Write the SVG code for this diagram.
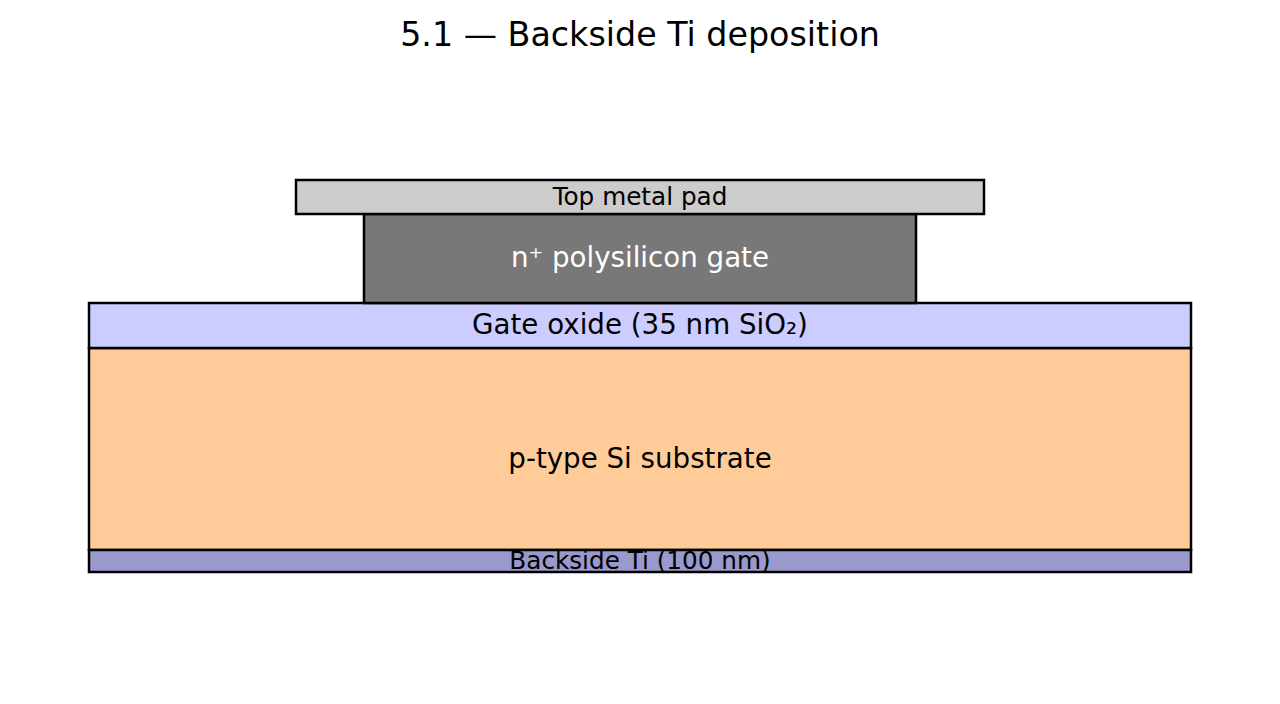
<svg xmlns="http://www.w3.org/2000/svg" width="1280" height="704" viewBox="0 0 1280 704">
<style>
.layer{stroke:#000;stroke-width:2.5}
text{font-family:"DejaVu Sans",sans-serif;text-anchor:middle;fill:#000}
.big{font-size:27.7px}
.small{font-size:24.7px}
</style>
<rect width="1280" height="704" fill="#fff"/>
<text x="640" y="46" style="font-size:33.3px">5.1 — Backside Ti deposition</text>
<g id="substrate"><rect class="layer" x="89" y="348" width="1102" height="202" fill="#ffcc99"/><text class="big" x="640" y="468">p-type Si substrate</text></g>
<g id="oxide"><rect class="layer" x="89" y="303" width="1102" height="45" fill="#ccccff"/><text class="big" x="640" y="334">Gate oxide (35 nm SiO₂)</text></g>
<g id="gate"><rect class="layer" x="364" y="214" width="552" height="89" fill="#787878"/><text class="big" x="640" y="267" style="fill:#fff">n⁺ polysilicon gate</text></g>
<g id="pad"><rect class="layer" x="296" y="180" width="688" height="34" fill="#cccccc"/><text class="small" x="640" y="205">Top metal pad</text></g>
<g id="backside-ti"><rect class="layer" x="89" y="550" width="1102" height="22" fill="#9999cc"/><text class="small" x="640" y="569">Backside Ti (100 nm)</text></g>
<g id="connectors"/>
</svg>
